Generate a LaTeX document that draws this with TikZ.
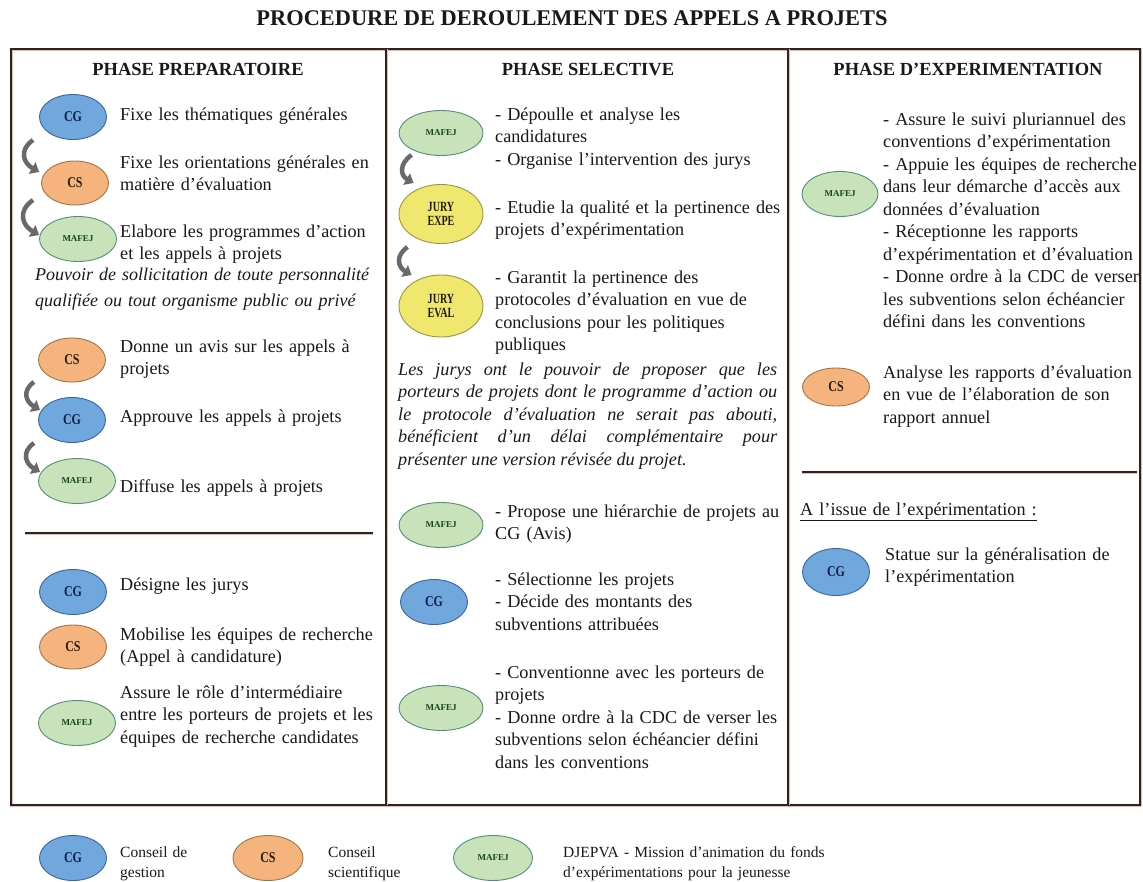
\documentclass[tikz,border=0pt]{standalone}
\usepackage{fontspec}
\setmainfont{Liberation Serif}
\usetikzlibrary{shapes.geometric,arrows.meta}
\definecolor{cgfill}{RGB}{112,168,222}
\definecolor{cgline}{RGB}{58,100,160}
\definecolor{cgtext}{RGB}{20,30,75}
\definecolor{csfill}{RGB}{245,180,125}
\definecolor{csline}{RGB}{165,115,65}
\definecolor{cstext}{RGB}{40,30,20}
\definecolor{maffill}{RGB}{200,226,185}
\definecolor{mafline}{RGB}{80,145,120}
\definecolor{maftext}{RGB}{20,70,30}
\definecolor{juryfill}{RGB}{240,232,110}
\definecolor{juryline}{RGB}{150,150,70}
\definecolor{inkc}{RGB}{25,25,25}
\definecolor{rulec}{RGB}{45,35,35}
\definecolor{rulehalo}{RGB}{238,185,175}
\definecolor{curlc}{RGB}{105,105,105}
\newcommand{\narrow}[1]{\scalebox{.8}[1]{#1}}

\begin{document}
\begin{tikzpicture}[x=1pt, y=1pt,
    elli/.style={ellipse, draw, line width=0.9pt, inner sep=0pt},
    cgoval/.style={elli, fill=cgfill, draw=cgline, text=cgtext, minimum width=67pt, minimum height=45pt, font=\bfseries\fontsize{15}{15}\selectfont},
    csoval/.style={elli, fill=csfill, draw=csline, text=cstext, minimum width=67pt, minimum height=44pt, font=\bfseries\fontsize{15}{15}\selectfont},
    mafoval/.style={elli, fill=maffill, draw=mafline, text=maftext, minimum width=77pt, minimum height=45pt, font=\bfseries\fontsize{9}{9}\selectfont},
    juryoval/.style={elli, fill=juryfill, draw=juryline, text=inkc, minimum width=84pt, minimum height=59pt, align=center, font=\bfseries\fontsize{14}{14}\selectfont},
    txt/.style={anchor=base west, inner sep=0pt, text=inkc, text width=#1, align=left, font=\fontsize{18.2}{22.5}\selectfont},
    txt/.default=275pt,
    head/.style={anchor=base, inner sep=0pt, text=inkc, font=\bfseries\fontsize{18.5}{22}\selectfont},
    rule/.style={draw=rulec, line width=1.3pt, preaction={draw=rulehalo, line width=3pt}},
    curl/.style={draw=curlc, line width=4.5pt, -{Triangle[length=8pt,width=13pt]}}]
  \useasboundingbox (0,0) rectangle (1143,-881);
  \fill[white] (0,0) rectangle (1143,-881);

  \node[head, font=\bfseries\fontsize{22.4}{26}\selectfont] (title) at (572,-25) {PROCEDURE DE DEROULEMENT DES APPELS A PROJETS};

  \draw[rule] (11,-49) rectangle (1140,-805);
  \draw[rule] (386,-49) -- (386,-805);
  \draw[rule] (788,-49) -- (788,-805);
  \draw[rule] (25,-533) -- (373,-533);
  \draw[rule] (802,-472) -- (1137,-472);

  \node[head] (h1) at (198,-75) {PHASE PREPARATOIRE};
  \node[head] (h2) at (588,-75) {PHASE SELECTIVE};
  \node[head] (h3) at (968,-75) {PHASE D’EXPERIMENTATION};

  \node[cgoval] (1) at (73,-117) {\narrow{CG}};
  \node[csoval] (2) at (75,-183) {\narrow{CS}};
  \node[mafoval] (3) at (78,-239) {MAFEJ};
  \node[csoval] (4) at (72,-360) {\narrow{CS}};
  \node[cgoval] (5) at (72,-420) {\narrow{CG}};
  \node[mafoval] (6) at (77,-481) {MAFEJ};
  \node[cgoval] (7) at (73,-592) {\narrow{CG}};
  \node[csoval] (8) at (73,-647) {\narrow{CS}};
  \node[mafoval] (9) at (77,-723) {MAFEJ};

  \node[mafoval, minimum width=84pt] (10) at (441,-133) {MAFEJ};
  \node[juryoval] (11) at (441,-214) {\scalebox{.72}[1]{JURY}\\\scalebox{.72}[1]{EXPE}};
  \node[juryoval, minimum height=62pt] (12) at (441,-306) {\scalebox{.72}[1]{JURY}\\\scalebox{.72}[1]{EVAL}};
  \node[mafoval, minimum width=84pt] (13) at (441,-525) {MAFEJ};
  \node[cgoval] (14) at (434,-602) {\narrow{CG}};
  \node[mafoval, minimum width=84pt] (15) at (441,-708) {MAFEJ};

  \node[mafoval, minimum width=76pt] (16) at (840,-194) {MAFEJ};
  \node[csoval, minimum height=38pt] (17) at (836,-387) {\narrow{CS}};
  \node[cgoval, minimum height=47pt] (18) at (836,-572) {\narrow{CG}};

  \node[cgoval] (19) at (73,-858) {\narrow{CG}};
  \node[csoval, minimum width=70pt, minimum height=45pt] (20) at (268,-858) {\narrow{CS}};
  \node[mafoval, minimum width=79pt] (21) at (493,-858) {MAFEJ};

  \node[txt] (t1) at (120,-120) {Fixe les thématiques générales};
  \node[txt] (t2) at (120,-168) {Fixe les orientations générales en\\matière d’évaluation};
  \node[txt] (t3) at (120,-237) {Elabore les programmes d’action\\et les appels à projets};
  \node[txt=365pt, font=\itshape\fontsize{18}{26}\selectfont] (n1) at (35,-280) {Pouvoir de sollicitation de toute personnalité\\qualifiée ou tout organisme public ou privé};
  \node[txt] (t4) at (120,-352) {Donne un avis sur les appels à\\projets};
  \node[txt] (t5) at (120,-422) {Approuve les appels à projets};
  \node[txt] (t6) at (120,-492) {Diffuse les appels à projets};
  \node[txt] (t7) at (120,-590) {Désigne les jurys};
  \node[txt] (t8) at (120,-640) {Mobilise les équipes de recherche\\(Appel à candidature)};
  \node[txt] (t9) at (120,-698) {Assure le rôle d’intermédiaire\\entre les porteurs de projets et les\\équipes de recherche candidates};

  \node[txt=295pt] (t10) at (495,-120) {- Dépoulle et analyse les\\candidatures\\- Organise l’intervention des jurys};
  \node[txt=295pt] (t11) at (495,-213) {- Etudie la qualité et la pertinence des\\projets d’expérimentation};
  \node[txt=295pt] (t12) at (495,-283) {- Garantit la pertinence des\\protocoles d’évaluation en vue de\\conclusions pour les politiques\\publiques};
  \node[txt=379pt, align=justify, font=\itshape\fontsize{18.2}{22.5}\selectfont] (n2) at (398,-375) {Les jurys ont le pouvoir de proposer que les\linebreak porteurs de projets dont le programme d’action ou\linebreak le protocole d’évaluation ne serait pas abouti,\linebreak bénéficient d’un délai complémentaire pour\linebreak présenter une version révisée du projet.};
  \node[txt=295pt] (t13) at (495,-517) {- Propose une hiérarchie de projets au\\CG (Avis)};
  \node[txt=295pt] (t14) at (495,-585) {- Sélectionne les projets\\- Décide des montants des\\subventions attribuées};
  \node[txt=295pt] (t15) at (495,-678) {- Conventionne avec les porteurs de\\projets\\- Donne ordre à la CDC de verser les\\subventions selon échéancier défini\\dans les conventions};

  \node[txt=260pt] (t16) at (883,-125) {- Assure le suivi pluriannuel des\\conventions d’expérimentation\\- Appuie les équipes de recherche\\dans leur démarche d’accès aux\\données d’évaluation\\- Réceptionne les rapports\\d’expérimentation et d’évaluation\\- Donne ordre à la CDC de verser\\les subventions selon échéancier\\défini dans les conventions};
  \node[txt=260pt] (t17) at (883,-378) {Analyse les rapports d’évaluation\\en vue de l’élaboration de son\\rapport annuel};
  \node[txt=330pt] (issue) at (800,-515) {\underline{A l’issue de l’expérimentation :}};
  \node[txt=260pt] (t18) at (885,-560) {Statue sur la généralisation de\\l’expérimentation};

  \node[txt=120pt, font=\fontsize{15.5}{20}\selectfont] (t19) at (120,-857) {Conseil de\\gestion};
  \node[txt=120pt, font=\fontsize{15.5}{20}\selectfont] (t20) at (328,-857) {Conseil\\scientifique};
  \node[txt=330pt, font=\fontsize{15.5}{20}\selectfont] (t21) at (563,-857) {DJEPVA - Mission d’animation du fonds\\d’expérimentations pour la jeunesse};

  \draw[curl] ([shift={(-6,-23)}]1.west) to[out=215,in=150,looseness=1.4] ([shift={(-2,11)}]2.west);
  \draw[curl] ([shift={(-8,-17)}]2.west) to[out=215,in=150,looseness=1.4] ([shift={(0,4)}]3.west);
  \draw[curl] ([shift={(-4,-22)}]4.west) to[out=215,in=150,looseness=1.4] ([shift={(2,10)}]5.west);
  \draw[curl] ([shift={(-4,-23)}]5.west) to[out=215,in=150,looseness=1.4] ([shift={(2,9)}]6.west);
  \draw[curl] ([shift={(13,-22)}]10.west) to[out=215,in=150,looseness=1.4] ([shift={(15,31)}]11.west);
  \draw[curl] ([shift={(9,-33)}]11.west) to[out=215,in=150,looseness=1.4] ([shift={(13,31)}]12.west);
\end{tikzpicture}
\end{document}
